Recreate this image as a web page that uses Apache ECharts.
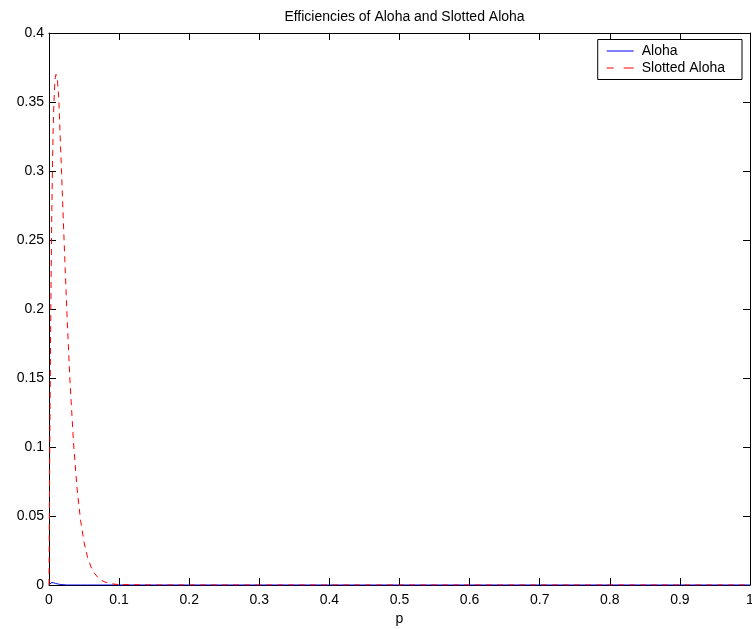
<!DOCTYPE html>
<html>
<head>
<meta charset="utf-8">
<script src="https://cdn.jsdelivr.net/npm/echarts@6/dist/echarts.min.js"></script>
<style>html,body{margin:0;padding:0;background:#fff}#c{width:752px;height:629px}</style>
</head>
<body>
<div id="c"></div>
<script>
const titleText = "Efficiencies of Aloha and Slotted Aloha";
const xLabel = "p";
const seriesNames = ["Aloha", "Slotted Aloha"];
const xTicks = [0, 0.1, 0.2, 0.3, 0.4, 0.5, 0.6, 0.7, 0.8, 0.9, 1];
const yTicks = [0, 0.05, 0.1, 0.15, 0.2, 0.25, 0.3, 0.35, 0.4];
const pValues = [0, 0.001, 0.002, 0.003, 0.004, 0.005, 0.006, 0.007, 0.008, 0.009, 0.01,
  0.012, 0.014, 0.016, 0.018, 0.02, 0.023, 0.026, 0.03, 0.035, 0.04, 0.045, 0.05, 0.055,
  0.06, 0.065, 0.07, 0.075, 0.08, 0.09, 0.1, 0.15, 0.2, 0.3, 0.4, 0.5, 0.6, 0.7, 0.8, 0.9, 1];
const alohaValues = [0, 0.0008, 0.0013, 0.0016, 0.0018, 0.0018, 0.0017, 0.0016, 0.0014, 0.0012, 0.0010,
  0.0008, 0.0006, 0.0004, 0.0003, 0.0002, 0.0001, 0, 0, 0, 0, 0, 0, 0,
  0, 0, 0, 0, 0, 0, 0, 0, 0, 0, 0, 0, 0, 0, 0, 0, 0];
const slottedValues = [0, 0.091, 0.164, 0.223, 0.270, 0.305, 0.331, 0.349, 0.361, 0.368, 0.370,
  0.366, 0.352, 0.324, 0.298, 0.270, 0.230, 0.192, 0.147, 0.103, 0.070, 0.047, 0.031, 0.020,
  0.013, 0.0084, 0.0053, 0.0033, 0.0021, 0.0008, 0.0003, 0, 0, 0, 0, 0, 0, 0, 0, 0, 0];

const pairs = (vals) => pValues.map((p, i) => [p, vals[i]]);
const font = "'Liberation Sans', Arial, Helvetica, sans-serif";
const chart = echarts.init(document.getElementById('c'), null, {renderer: 'canvas'});
const axisCommon = {
  axisLine: {show: true, onZero: false, lineStyle: {color: '#000', width: 1}},
  axisTick: {show: true, inside: true, length: 7, lineStyle: {color: '#000'}},
  splitLine: {show: false}
};
const fmt = (ticks) => v => { const t = ticks.find(x => Math.abs(x - v) < 1e-9); return t === undefined ? '' : String(t); };
chart.setOption({
  animation: false,
  backgroundColor: '#fff',
  title: {
    text: titleText, left: 399.5, textAlign: 'center', top: 5,
    textStyle: {fontFamily: font, fontSize: 14, fontWeight: 'normal', color: '#000'}
  },
  grid: {left: 49, right: 2, top: 33, bottom: 44, containLabel: false, outerBoundsMode: 'none'},
  legend: {
    data: [
      {name: seriesNames[0], icon: 'path://M0,0h27v1h-27z', itemStyle: {color: '#0000ff'}},
      {name: seriesNames[1], icon: 'path://M0,0h7v1h-7zM17,0h10v1h-10z', itemStyle: {color: '#ff0000'}}
    ],
    orient: 'vertical', right: 10, top: 39.5,
    itemWidth: 27, itemHeight: 1, itemGap: 0,
    padding: [3, 17, 3, 9],
    borderColor: '#000', borderWidth: 1, backgroundColor: '#fff', borderRadius: 0,
    textStyle: {fontFamily: font, fontSize: 14, color: '#000', lineHeight: 17, padding: [0, 0, 0, 3]}
  },
  xAxis: [
    Object.assign({}, axisCommon, {
      type: 'value', min: 0, max: 1, interval: 0.1, position: 'bottom',
      name: xLabel, nameLocation: 'middle', nameGap: 27,
      nameTextStyle: {fontFamily: font, fontSize: 14, color: '#000'},
      axisLabel: {fontFamily: font, fontSize: 14, color: '#000', margin: 8, formatter: fmt(xTicks)}
    }),
    Object.assign({}, axisCommon, {
      type: 'value', min: 0, max: 1, interval: 0.1, position: 'top', axisLabel: {show: false}
    })
  ],
  yAxis: [
    Object.assign({}, axisCommon, {
      type: 'value', min: 0, max: 0.4, interval: 0.05, position: 'left',
      axisLabel: {fontFamily: font, fontSize: 14, color: '#000', margin: 5, formatter: fmt(yTicks)}
    }),
    Object.assign({}, axisCommon, {
      type: 'value', min: 0, max: 0.4, interval: 0.05, position: 'right', axisLabel: {show: false}
    })
  ],
  series: [
    {
      name: seriesNames[0], type: 'line', data: pairs(alohaValues),
      xAxisIndex: 0, yAxisIndex: 0,
      showSymbol: false, symbol: 'none', clip: true,
      lineStyle: {color: '#0000ff', width: 1},
      itemStyle: {color: '#0000ff'}
    },
    {
      name: seriesNames[1], type: 'line', data: pairs(slottedValues),
      xAxisIndex: 0, yAxisIndex: 0,
      showSymbol: false, symbol: 'none', clip: true,
      lineStyle: {color: '#ff0000', width: 1, type: [6, 5]},
      itemStyle: {color: '#ff0000'}
    }
  ]
});
</script>
</body>
</html>
